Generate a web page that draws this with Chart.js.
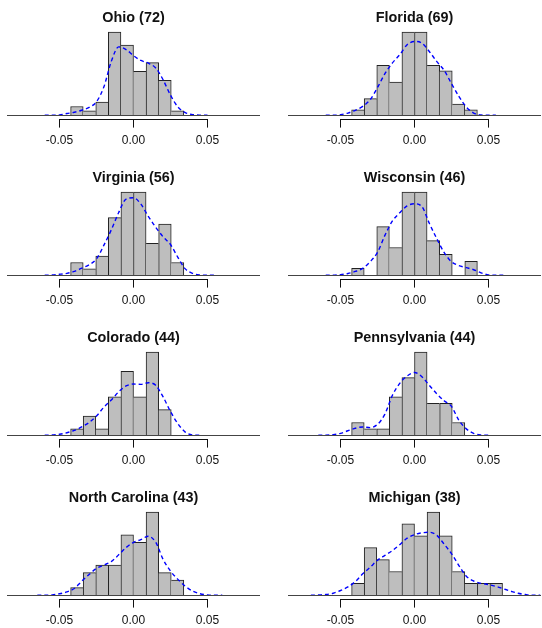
<!DOCTYPE html>
<html>
<head>
<meta charset="utf-8">
<script src="https://cdn.jsdelivr.net/npm/chart.js@4"></script>
<style>
    html, body { margin: 0; padding: 0; background: #fff; overflow: hidden; }
    #wrap { position: relative; width: 542px; height: 628px; }
    #wrap canvas { position: absolute; }
</style>
</head>
<body>
<div id="wrap"></div>
<script>
// Histogram bins: lower edges, shared by every panel
var binWidth = 0.0085;
var binLowerEdges = [-0.0425, -0.034, -0.0255, -0.017, -0.0085, 0, 0.0085, 0.017, 0.0255, 0.034, 0.0425, 0.051];

// Density curves are read on this common grid
var densityX = [-0.07, -0.065, -0.06, -0.055, -0.05, -0.045, -0.04, -0.035, -0.03, -0.025, -0.02, -0.015,
    -0.01, -0.005, 0, 0.005, 0.01, 0.015, 0.02, 0.025, 0.03, 0.035, 0.04, 0.045,
    0.05, 0.055, 0.06, 0.065, 0.07, 0.075, 0.08, 0.085];

var xTickValues = [-0.05, 0, 0.05];

var stateNames = ['Ohio', 'Florida', 'Virginia', 'Wisconsin', 'Colorado', 'Pennsylvania', 'North Carolina', 'Michigan'];
var stateTotals = [72, 69, 56, 46, 44, 44, 43, 38];

var ohioCounts = [2, 1, 3, 19, 16, 10, 12, 8, 1, null, null, null];
var floridaCounts = [1, 3, 9, 6, 15, 15, 9, 8, 2, 1, null, null];
var virginiaCounts = [2, 1, 3, 9, 13, 13, 5, 8, 2, null, null, null];
var wisconsinCounts = [1, null, 7, 4, 12, 12, 5, 3, null, 2, null, null];
var coloradoCounts = [1, 3, 1, 6, 10, 6, 13, 4, null, null, null, null];
var pennsylvaniaCounts = [2, 1, 1, 6, 9, 13, 5, 5, 2, null, null, null];
var northCarolinaCounts = [1, 3, 4, 4, 8, 7, 11, 3, 2, null, null, null];
var michiganCounts = [1, 4, 3, 2, 6, 5, 7, 5, 2, 1, 1, 1];

var ohioDensity = [null, null, 0, 0.02, 0.1, 0.4, 0.7, 1.15, 1.8, 3.1, 6.5, 12.3,
    15.6, 15.0, 13.6, 12.5, 11.9, 10.8, 8.1, 4.6, 1.9, 0.6, 0.15, 0.02,
    0, null, null, null, null, null, null, null];
var floridaDensity = [null, null, 0, 0, 0.1, 0.4, 0.9, 1.6, 2.8, 5.0, 7.5, 9.4,
    10.9, 12.7, 13.3, 13.0, 11.5, 9.7, 8.1, 5.7, 3.4, 1.5, 0.4, 0.05,
    0, 0, null, null, null, null, null, null];
var virginiaDensity = [null, null, 0, 0.05, 0.15, 0.3, 0.6, 1.1, 1.65, 2.55, 4.7, 7.1,
    9.8, 11.9, 12.1, 11.1, 9.2, 7.5, 6.0, 4.8, 2.8, 1.0, 0.3, 0.05,
    0, 0, null, null, null, null, null, null];
var wisconsinDensity = [null, null, 0, 0, 0.1, 0.25, 0.55, 1.0, 1.95, 3.3, 5.75, 7.8,
    9.0, 10.0, 10.3, 9.9, 7.5, 5.3, 3.3, 1.95, 1.4, 1.1, 0.8, 0.35,
    0.05, 0, 0, null, null, null, null, null];
var coloradoDensity = [null, null, 0, 0.05, 0.15, 0.4, 0.75, 1.3, 2.0, 3.0, 4.4, 5.5,
    6.8, 7.7, 8.0, 7.95, 8.2, 7.8, 6.0, 3.7, 1.8, 0.5, 0.05, 0,
    null, null, null, null, null, null, null, null];
var pennsylvaniaDensity = [null, 0, 0.02, 0.1, 0.3, 0.7, 1.1, 1.3, 1.2, 1.7, 3.3, 6.2,
    8.1, 9.25, 9.8, 9.15, 7.8, 6.5, 5.4, 4.5, 2.35, 1.0, 0.3, 0.05,
    0, null, null, null, null, null, null, null];
var northCarolinaDensity = [null, 0, 0, 0.05, 0.2, 0.45, 0.9, 1.85, 2.75, 3.55, 4.0, 4.45,
    5.35, 6.3, 7.0, 7.35, 7.8, 7.0, 4.75, 3.2, 2.1, 1.2, 0.55, 0.2,
    0.05, 0, 0, null, null, null, null, null];
var michiganDensity = [0, 0.03, 0.06, 0.17, 0.4, 0.7, 1.15, 1.8, 2.35, 2.95, 3.35, 3.75,
    4.25, 4.8, 5.1, 5.25, 5.3, 5.05, 4.3, 3.5, 2.5, 1.6, 1.2, 1.0,
    0.9, 0.75, 0.55, 0.35, 0.17, 0.06, 0, 0];

var stateCounts = [ohioCounts, floridaCounts, virginiaCounts, wisconsinCounts,
    coloradoCounts, pennsylvaniaCounts, northCarolinaCounts, michiganCounts];
var stateDensities = [ohioDensity, floridaDensity, virginiaDensity, wisconsinDensity,
    coloradoDensity, pennsylvaniaDensity, northCarolinaDensity, michiganDensity];

var FONT = "'Liberation Sans', Arial, sans-serif";

// R-style pieces: a zero line across the plot and an axis line only between the outer ticks
var rAxisPlugin = {
    id: 'rAxis',
    afterDatasetsDraw: function (chart) {
        var ctx = chart.ctx;
        var area = chart.chartArea;
        var xs = chart.scales.x;
        var y0 = Math.round(chart.scales.y.getPixelForValue(0)) + 0.5;
        ctx.save();
        ctx.strokeStyle = '#444';
        ctx.lineWidth = 1;
        ctx.beginPath();
        ctx.moveTo(area.left, y0);
        ctx.lineTo(area.right, y0);
        ctx.stroke();

        var ya = Math.round(xs.top) + 0.5;
        ctx.strokeStyle = '#111';
        ctx.beginPath();
        ctx.moveTo(Math.round(xs.getPixelForValue(xTickValues[0])), ya);
        ctx.lineTo(Math.round(xs.getPixelForValue(xTickValues[xTickValues.length - 1])) + 1, ya);
        ctx.stroke();
        ctx.restore();
    }
};

function buildPanel(i) {
    var col = i % 2;
    var row = Math.floor(i / 2);
    var counts = stateCounts[i];
    var density = stateDensities[i];

    var canvas = document.createElement('canvas');
    canvas.width = 271;
    canvas.height = 153;
    canvas.style.left = (col * 271) + 'px';
    canvas.style.top = (row * 160) + 'px';
    document.getElementById('wrap').appendChild(canvas);

    var barData = binLowerEdges.map(function (edge, k) {
        return { x: edge + binWidth / 2, y: counts[k] };
    });
    var lineData = densityX.map(function (x, k) {
        return { x: x, y: density[k] };
    });
    var ymax = Math.max.apply(null, counts.filter(function (v) { return v != null; }));

    new Chart(canvas, {
        type: 'bar',
        data: {
            datasets: [{
                type: 'line',
                data: lineData,
                borderColor: '#0000ff',
                borderWidth: 1.4,
                borderDash: [4, 3],
                pointRadius: 0,
                cubicInterpolationMode: 'monotone',
                spanGaps: false,
                order: 0,
            }, {
                type: 'bar',
                data: barData,
                backgroundColor: '#bebebe',
                borderColor: '#222',
                barPercentage: 1,
                categoryPercentage: 1,
                borderWidth: function (c) {
                    var k = c.dataIndex;
                    var cur = counts[k];
                    var prev = k > 0 ? counts[k - 1] : null;
                    var next = counts[k + 1];
                    return {
                        top: 1,
                        bottom: 0,
                        left: (prev == null || prev <= cur) ? 1 : 0,
                        right: (next == null || next < cur) ? 1 : 0,
                    };
                },
                order: 1,
            }],
        },
        options: {
            responsive: false,
            animation: false,
            devicePixelRatio: 1,
            layout: { padding: { left: col ? 17 : 7, right: col ? 1 : 11, top: 0, bottom: 0 } },
            plugins: {
                legend: { display: false },
                tooltip: { enabled: false },
                title: {
                    display: true,
                    text: stateNames[i] + ' (' + stateTotals[i] + ')',
                    color: '#111',
                    font: { family: FONT, size: 14.4, weight: 'bold', lineHeight: 1.2 },
                    padding: { top: 8.9, bottom: 2.5 },
                },
            },
            scales: {
                x: {
                    type: 'linear',
                    min: -0.0855,
                    max: 0.0855,
                    offset: false,
                    afterBuildTicks: function (scale) {
                        scale.ticks = xTickValues.map(function (v) { return { value: v }; });
                    },
                    grid: { offset: false, drawOnChartArea: false, drawTicks: true, tickLength: 9, color: '#111' },
                    border: { display: false },
                    ticks: {
                        padding: 5.5,
                        color: '#111',
                        maxRotation: 0,
                        font: { family: FONT, size: 12, lineHeight: 1.2 },
                        callback: function (v) { return Number(v).toFixed(2); },
                    },
                },
                y: {
                    display: false,
                    min: -0.04 * ymax,
                    max: 1.04 * ymax,
                },
            },
        },
        plugins: [rAxisPlugin],
    });
}

for (var i = 0; i < stateNames.length; i++) {
    buildPanel(i);
}
</script>
</body>
</html>
